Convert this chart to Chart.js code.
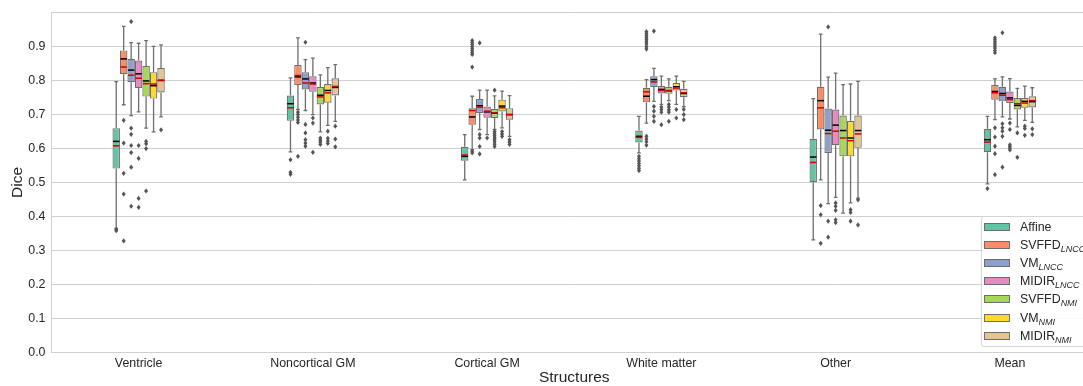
<!DOCTYPE html>
<html>
<head>
<meta charset="utf-8">
<script src="https://cdn.jsdelivr.net/npm/chart.js@4.4.1/dist/chart.umd.min.js"></script>
<style>
    html, body { margin: 0; padding: 0; overflow: hidden; background: #fff; }
    #wrap { position: relative; width: 1098px; height: 386px; }
    #legend {
        position: absolute; left: 981px; top: 216px; width: 130px; height: 129px;
        border: 1px solid #d6d6d6; border-radius: 3px; background: rgba(255,255,255,0.85);
        font: 12.4px 'Liberation Sans', Arial, sans-serif; color: #262626;
    }
    #legend .item { position: absolute; left: 2px; height: 18px; display: flex; align-items: center; white-space: nowrap; }
    #legend .sw { width: 24px; height: 6px; border: 1px solid #6e6e6e; margin-right: 10px; }
    #legend sub { font-style: italic; font-size: 9px; vertical-align: -3px; line-height: 0; }
</style>
</head>
<body>
<div id="wrap">
    <canvas id="chart" width="1098" height="386"></canvas>
    <div id="legend"></div>
</div>
<script>
const categories = ['Ventricle', 'Noncortical GM', 'Cortical GM', 'White matter', 'Other', 'Mean'];
const seriesBase = ['Affine', 'SVFFD', 'VM', 'MIDIR', 'SVFFD', 'VM', 'MIDIR'];
const seriesSub = ['', 'LNCC', 'LNCC', 'LNCC', 'NMI', 'NMI', 'NMI'];
const seriesColors = ['#66c2a5', '#fc8d62', '#8da0cb', '#e78ac3', '#a6d854', '#ffd92f', '#e5c494'];
const yTicks = [0.0, 0.1, 0.2, 0.3, 0.4, 0.5, 0.6, 0.7, 0.8, 0.9];

// rows = series, columns = categories
const whiskerHigh = [
    [0.797, 0.808, 0.641, 0.695, 0.747, 0.695],
    [0.960, 0.926, 0.754, 0.803, 0.937, 0.805],
    [0.912, 0.862, 0.772, 0.836, 0.810, 0.811],
    [0.910, 0.866, 0.772, 0.813, 0.822, 0.806],
    [0.918, 0.817, 0.755, 0.805, 0.788, 0.777],
    [0.901, 0.838, 0.769, 0.813, 0.790, 0.784],
    [0.905, 0.847, 0.756, 0.798, 0.798, 0.779]
];
const q3 = [
    [0.660, 0.756, 0.605, 0.653, 0.629, 0.658],
    [0.889, 0.846, 0.719, 0.779, 0.782, 0.787],
    [0.864, 0.825, 0.746, 0.813, 0.718, 0.782],
    [0.859, 0.813, 0.724, 0.784, 0.715, 0.768],
    [0.843, 0.781, 0.717, 0.782, 0.697, 0.749],
    [0.825, 0.790, 0.744, 0.793, 0.682, 0.749],
    [0.837, 0.807, 0.719, 0.776, 0.697, 0.754]
];
const medians = [
    [0.621, 0.732, 0.577, 0.636, 0.575, 0.626],
    [0.864, 0.811, 0.693, 0.754, 0.741, 0.768],
    [0.831, 0.805, 0.726, 0.803, 0.654, 0.762],
    [0.820, 0.793, 0.708, 0.774, 0.669, 0.749],
    [0.799, 0.757, 0.704, 0.770, 0.653, 0.727],
    [0.785, 0.771, 0.725, 0.782, 0.631, 0.739],
    [0.801, 0.780, 0.700, 0.762, 0.653, 0.738]
];
const means = [
    [0.608, 0.720, 0.581, 0.633, 0.559, 0.619],
    [0.840, 0.815, 0.712, 0.767, 0.720, 0.764],
    [0.816, 0.793, 0.722, 0.796, 0.644, 0.757],
    [0.807, 0.790, 0.710, 0.771, 0.651, 0.744],
    [0.791, 0.752, 0.705, 0.771, 0.631, 0.732],
    [0.790, 0.764, 0.720, 0.778, 0.623, 0.734],
    [0.800, 0.783, 0.700, 0.764, 0.643, 0.741]
];
const q1 = [
    [0.541, 0.682, 0.564, 0.618, 0.501, 0.589],
    [0.819, 0.787, 0.670, 0.736, 0.656, 0.744],
    [0.795, 0.774, 0.705, 0.781, 0.587, 0.739],
    [0.778, 0.767, 0.691, 0.762, 0.610, 0.734],
    [0.753, 0.730, 0.690, 0.761, 0.577, 0.715],
    [0.747, 0.735, 0.709, 0.771, 0.577, 0.720],
    [0.765, 0.756, 0.685, 0.751, 0.602, 0.721]
];
const whiskerLow = [
    [0.365, 0.590, 0.508, 0.587, 0.331, 0.496],
    [0.729, 0.715, 0.597, 0.675, 0.508, 0.685],
    [0.697, 0.712, 0.656, 0.739, 0.438, 0.693],
    [0.708, 0.700, 0.641, 0.730, 0.456, 0.687],
    [0.660, 0.649, 0.656, 0.741, 0.410, 0.664],
    [0.649, 0.668, 0.661, 0.730, 0.440, 0.683],
    [0.693, 0.680, 0.636, 0.723, 0.454, 0.677]
];
const outliers = [
    [[0.362, 0.358], [0.567, 0.530, 0.524], [], [0.577, 0.570, 0.563, 0.556, 0.549, 0.542, 0.535], [], [0.482]],
    [[0.683, 0.616, 0.527, 0.466, 0.328], [0.707, 0.700, 0.692, 0.684, 0.677, 0.577],
     [0.918, 0.912, 0.906, 0.900, 0.894, 0.888, 0.882, 0.877, 0.840, 0.592, 0.587],
     [0.944, 0.938, 0.932, 0.926, 0.920, 0.914, 0.908, 0.900, 0.893, 0.636, 0.628, 0.620, 0.610],
     [0.432, 0.405, 0.321],
     [0.926, 0.920, 0.914, 0.908, 0.902, 0.896, 0.889, 0.882, 0.661, 0.634, 0.607, 0.585, 0.523]],
    [[0.974, 0.660, 0.642, 0.609, 0.588, 0.545, 0.430], [0.913, 0.671, 0.646, 0.626, 0.616, 0.607],
     [0.911, 0.641, 0.631, 0.606, 0.584], [0.946, 0.724, 0.710, 0.695, 0.680],
     [0.958, 0.386, 0.339], [0.941, 0.673, 0.661, 0.651, 0.636, 0.545]],
    [[0.609, 0.571, 0.453, 0.427], [0.690, 0.675, 0.589], [0.631], [0.722, 0.715, 0.707, 0.670],
     [0.440, 0.430, 0.418, 0.390, 0.382], [0.675, 0.656, 0.611, 0.606, 0.601, 0.596]],
    [[0.621, 0.614, 0.600, 0.475], [0.631, 0.625, 0.619, 0.612],
     [0.772, 0.650, 0.644, 0.638, 0.632, 0.626, 0.620, 0.613, 0.606],
     [0.730, 0.722, 0.714, 0.707, 0.680], [], [0.646, 0.574]],
    [[], [0.651, 0.630, 0.622, 0.615], [0.650, 0.643, 0.636], [0.715, 0.690], [0.420, 0.412, 0.386], [0.666, 0.659, 0.639]],
    [[0.655], [0.666, 0.628, 0.605], [0.626, 0.619, 0.612], [0.715, 0.700, 0.685], [0.449, 0.375], [0.658, 0.641]]
];

const edgeGrey = '#6e6e6e';
const fontFamily = "'Liberation Sans', Arial, sans-serif";

// whiskers behind the boxes, medians / means / outliers on top
const boxExtras = {
    id: 'boxExtras',
    beforeDatasetsDraw(chart) {
        const ctx = chart.ctx;
        const y = chart.scales.y;
        ctx.save();
        ctx.strokeStyle = edgeGrey;
        ctx.lineWidth = 1.3;
        chart.data.datasets.forEach((ds, i) => {
            chart.getDatasetMeta(i).data.forEach((bar, j) => {
                const cap = bar.width * 0.25;
                const lo = y.getPixelForValue(whiskerLow[i][j]);
                const hi = y.getPixelForValue(whiskerHigh[i][j]);
                ctx.beginPath();
                ctx.moveTo(bar.x, y.getPixelForValue(q1[i][j]));
                ctx.lineTo(bar.x, lo);
                ctx.moveTo(bar.x - cap, lo);
                ctx.lineTo(bar.x + cap, lo);
                ctx.moveTo(bar.x, y.getPixelForValue(q3[i][j]));
                ctx.lineTo(bar.x, hi);
                ctx.moveTo(bar.x - cap, hi);
                ctx.lineTo(bar.x + cap, hi);
                ctx.stroke();
            });
        });
        ctx.restore();
    },
    afterDatasetsDraw(chart) {
        const ctx = chart.ctx;
        const y = chart.scales.y;
        ctx.save();
        chart.data.datasets.forEach((ds, i) => {
            chart.getDatasetMeta(i).data.forEach((bar, j) => {
                const half = bar.width / 2 - 0.5;
                const line = (v, color) => {
                    const py = y.getPixelForValue(v);
                    ctx.strokeStyle = color;
                    ctx.lineWidth = 1.5;
                    ctx.beginPath();
                    ctx.moveTo(bar.x - half, py);
                    ctx.lineTo(bar.x + half, py);
                    ctx.stroke();
                };
                line(medians[i][j], '#000000');
                line(means[i][j], '#d40000');

                ctx.fillStyle = '#555555';
                outliers[i][j].forEach(v => {
                    const py = y.getPixelForValue(v);
                    ctx.beginPath();
                    ctx.moveTo(bar.x, py - 2.6);
                    ctx.lineTo(bar.x + 2, py);
                    ctx.lineTo(bar.x, py + 2.6);
                    ctx.lineTo(bar.x - 2, py);
                    ctx.closePath();
                    ctx.fill();
                });
            });
        });
        ctx.restore();
    }
};

const datasets = seriesBase.map((name, i) => ({
    label: seriesSub[i] ? name + '_' + seriesSub[i] : name,
    data: categories.map((c, j) => [q1[i][j], q3[i][j]]),
    backgroundColor: seriesColors[i],
    borderColor: edgeGrey,
    borderWidth: 1.2,
    borderSkipped: false,
    categoryPercentage: 0.3,
    barPercentage: 1.0
}));

new Chart(document.getElementById('chart'), {
    type: 'bar',
    data: { labels: categories, datasets: datasets },
    plugins: [boxExtras],
    options: {
        responsive: false,
        animation: false,
        layout: { padding: { top: 12.7, right: 1, left: 0, bottom: 0 } },
        plugins: {
            legend: { display: false },
            tooltip: { enabled: false }
        },
        scales: {
            x: {
                grid: { display: false, drawTicks: false },
                border: { display: true, color: '#d0d0d0' },
                ticks: {
                    padding: 3.5,
                    color: '#262626',
                    font: { family: fontFamily, size: 12.4 }
                },
                title: {
                    display: true,
                    text: 'Structures',
                    color: '#262626',
                    font: { family: fontFamily, size: 15.5, lineHeight: 1 },
                    padding: { top: 0, bottom: 0.5 }
                },
                afterFit(scale) {
                    scale.height = 33.7;
                    scale.paddingLeft = 0;
                    scale.paddingRight = 0;
                }
            },
            y: {
                min: 0,
                max: 1.0,
                grid: { color: '#d0d0d0', lineWidth: 1, drawTicks: false },
                border: { display: true, color: '#d0d0d0' },
                ticks: {
                    stepSize: 0.1,
                    padding: 6,
                    color: '#262626',
                    font: { family: fontFamily, size: 12.4 },
                    callback: (v) => {
                        const t = yTicks.find(k => Math.abs(k - v) < 1e-6);
                        return t === undefined ? '' : t.toFixed(1);
                    }
                },
                title: {
                    display: true,
                    text: 'Dice',
                    color: '#262626',
                    font: { family: fontFamily, size: 15.5, lineHeight: 1 },
                    padding: { top: 9.5, bottom: 0 }
                },
                afterFit(scale) {
                    scale.width = 51.5;
                    scale.paddingTop = 0;
                    scale.paddingBottom = 0;
                }
            }
        }
    }
});

// legend with subscripted method names
const legendEl = document.getElementById('legend');
seriesBase.forEach((name, i) => {
    const item = document.createElement('div');
    item.className = 'item';
    item.style.top = (0.5 + i * 18.2) + 'px';
    const sw = document.createElement('span');
    sw.className = 'sw';
    sw.style.background = seriesColors[i];
    const label = document.createElement('span');
    label.textContent = name;
    if (seriesSub[i]) {
        const sub = document.createElement('sub');
        sub.textContent = seriesSub[i];
        label.appendChild(sub);
    }
    item.appendChild(sw);
    item.appendChild(label);
    legendEl.appendChild(item);
});
</script>
</body>
</html>
